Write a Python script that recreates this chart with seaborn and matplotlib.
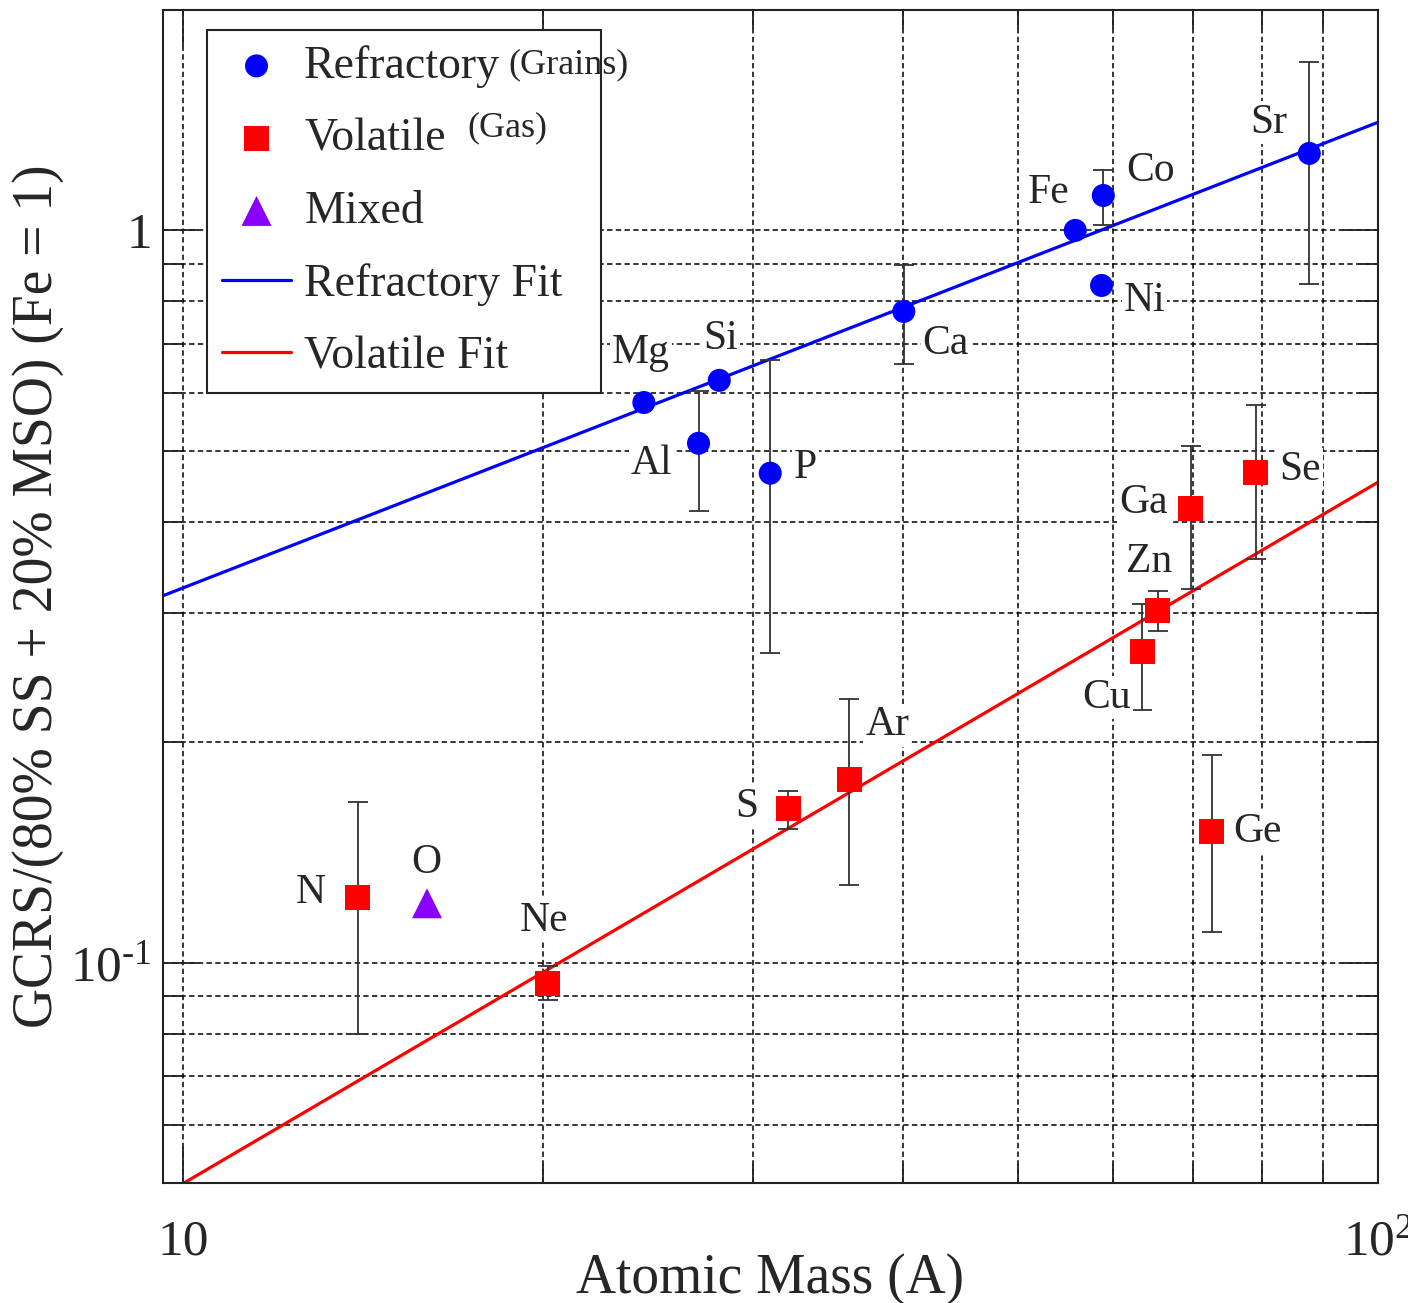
import numpy as np
import pandas as pd
import matplotlib
matplotlib.use('Agg')
import matplotlib.pyplot as plt
import seaborn as sns
from matplotlib.ticker import LogLocator, NullFormatter, FixedLocator, FixedFormatter

# ---------------- data ----------------
ref_elements = ['Mg', 'Al', 'Si', 'P', 'Ca', 'Fe', 'Ni', 'Co', 'Sr']
ref_mass = [24.3, 27.0, 28.1, 31.0, 40.1, 55.8, 58.7, 58.9, 87.6]
ref_ratio = [0.582, 0.512, 0.624, 0.466, 0.775, 1.0, 0.841, 1.116, 1.274]
ref_err_low = [np.nan, 0.414, np.nan, 0.265, 0.658, np.nan, np.nan, 1.016, 0.846]
ref_err_high = [np.nan, 0.604, np.nan, 0.665, 0.896, np.nan, np.nan, 1.21, 1.70]

vol_elements = ['N', 'Ne', 'S', 'Ar', 'Cu', 'Zn', 'Ga', 'Ge', 'Se']
vol_mass = [14.0, 20.2, 32.1, 36.1, 63.5, 65.4, 69.7, 72.6, 79.0]
vol_ratio = [0.1227, 0.0936, 0.1622, 0.178, 0.266, 0.303, 0.417, 0.151, 0.467]
vol_err_low = [0.0799, 0.0889, 0.152, 0.1275, 0.221, 0.284, 0.324, 0.110, 0.356]
vol_err_high = [0.1656, 0.099, 0.1718, 0.229, 0.309, 0.322, 0.508, 0.192, 0.577]

mix_elements = ['O']
mix_mass = [16.0]
mix_ratio = [0.1205]

fit_mass = [9.62, 100.0]
ref_fit = [0.317, 1.405]
vol_fit = [0.0481, 0.453]

x_ticks = [10, 100]
x_ticklabels = ['10', r'$\mathrm{10^{2}}$']
y_ticks = [0.1, 1]
y_ticklabels = [r'$\mathrm{10^{\text{-}1}}$', '1']

# label offsets (pixels) relative to points
label_offsets = {
    'Mg': (-3, 50), 'Al': (-47, -20), 'Si': (1, 42), 'P': (35, 5), 'Ca': (42, -32),
    'Fe': (-27, 38), 'Ni': (43, -15), 'Co': (47, 25), 'Sr': (-41, 31),
    'N': (-47, 5), 'Ne': (-4, 63), 'S': (-42, 2), 'Ar': (38, 54), 'Cu': (-36, -46),
    'Zn': (-9, 48), 'Ga': (-47, 6), 'Ge': (46, 0), 'Se': (44, 3), 'O': (-1, 41),
}

# ---------------- style ----------------
sns.set_theme(style='ticks')
plt.rcParams['font.family'] = ['Liberation Serif', 'DejaVu Serif']
plt.rcParams['mathtext.fontset'] = 'custom'
plt.rcParams['mathtext.rm'] = 'Liberation Serif'
plt.rcParams['mathtext.it'] = 'Liberation Serif:italic'
plt.rcParams['mathtext.bf'] = 'Liberation Serif:bold'

BLUE = '#0000ff'
RED = '#ff0000'
PURPLE = '#8a00ff'

fig = plt.figure(figsize=(14.08, 13.03), dpi=100)
ax = fig.add_axes([163 / 1408, 1 - 1183 / 1303, 1215 / 1408, 1173 / 1303])
ax.set_xscale('log')
ax.set_yscale('log')

df_ref = pd.DataFrame({'el': ref_elements, 'mass': ref_mass, 'ratio': ref_ratio,
                       'lo': ref_err_low, 'hi': ref_err_high})
df_vol = pd.DataFrame({'el': vol_elements, 'mass': vol_mass, 'ratio': vol_ratio,
                       'lo': vol_err_low, 'hi': vol_err_high})
df_mix = pd.DataFrame({'el': mix_elements, 'mass': mix_mass, 'ratio': mix_ratio})
df_fit = pd.DataFrame({'mass': fit_mass, 'ref': ref_fit, 'vol': vol_fit})

# error bars
for df in (df_ref, df_vol):
    d = df.dropna(subset=['lo', 'hi'])
    ax.errorbar(d['mass'], d['ratio'], yerr=[d['ratio'] - d['lo'], d['hi'] - d['ratio']],
                fmt='none', ecolor='#333333', elinewidth=1.3, capsize=7, capthick=1.3, zorder=3)

# fits
sns.lineplot(data=df_fit, x='mass', y='ref', color=BLUE, linewidth=2.3, ax=ax,
             label='Refractory Fit', zorder=2)
sns.lineplot(data=df_fit, x='mass', y='vol', color=RED, linewidth=2.3, ax=ax,
             label='Volatile Fit', zorder=2)

# points
sns.scatterplot(data=df_ref, x='mass', y='ratio', color=BLUE, marker='o', s=275,
                edgecolor='none', linewidth=0, ax=ax, label='Refractory', zorder=4)
sns.scatterplot(data=df_vol, x='mass', y='ratio', color=RED, marker='s', s=324,
                edgecolor='none', linewidth=0, ax=ax, label='Volatile', zorder=4)
sns.scatterplot(data=df_mix, x='mass', y='ratio', color=PURPLE, marker='^', s=466,
                edgecolor='none', linewidth=0, ax=ax, label='Mixed', zorder=4)

# labels
for df in (df_ref, df_vol, df_mix):
    for _, r in df.iterrows():
        dx, dy = label_offsets[r['el']]
        ax.annotate(r['el'], (r['mass'], r['ratio']), xytext=(dx, dy),
                    textcoords='offset pixels', ha='center', va='center',
                    fontsize=30, zorder=6,
                    bbox=dict(boxstyle='square,pad=0.05', fc='white', ec='none'))

ax.set_xlim(9.62, 100)
ax.set_ylim(0.05, 2.0)

# ticks
ax.xaxis.set_major_locator(FixedLocator(x_ticks))
ax.xaxis.set_major_formatter(FixedFormatter(x_ticklabels))
ax.yaxis.set_major_locator(FixedLocator(y_ticks))
ax.yaxis.set_major_formatter(FixedFormatter(y_ticklabels))
ax.xaxis.set_minor_locator(LogLocator(base=10, subs=np.arange(2, 10)))
ax.yaxis.set_minor_locator(LogLocator(base=10, subs=np.arange(2, 10)))
ax.xaxis.set_minor_formatter(NullFormatter())
ax.yaxis.set_minor_formatter(NullFormatter())
ax.tick_params(which='major', direction='in', length=26, width=1.3, top=True, right=True,
               labelsize=37, color='#222222')
ax.tick_params(axis='x', which='major', pad=26)
ax.tick_params(axis='y', which='major', pad=8)
ax.tick_params(which='minor', direction='in', length=13.5, width=1.3, top=True, right=True,
               color='#222222')

ax.grid(True, which='both', color='black', linestyle=(0, (3.5, 2.2)), linewidth=1.1, zorder=0)
ax.set_axisbelow(True)
for s in ax.spines.values():
    s.set_linewidth(1.5)
    s.set_color('#222222')

ax.set_xlabel('Atomic Mass (A)', fontsize=40)
ax.set_ylabel('GCRS/(80% SS + 20% MSO) (Fe = 1)', fontsize=40)
ax.xaxis.set_label_coords(0.5, (1183 - 1253) / 1173)
ax.yaxis.set_label_coords((64 - 163) / 1215, 0.5)

# legend
handles, labels = ax.get_legend_handles_labels()
order = ['Refractory', 'Volatile', 'Mixed', 'Refractory Fit', 'Volatile Fit']
hmap = dict(zip(labels, handles))
leg = ax.legend([hmap[k] for k in order], [k + '  ' if 'Fit' in k else k for k in order],
                loc='upper left', bbox_to_anchor=(44 / 1215, 1 - 20 / 1173),
                borderaxespad=0, fontsize=33, frameon=True, fancybox=False,
                edgecolor='#222222', framealpha=1, borderpad=0.33, labelspacing=0.655,
                handlelength=1.5, handletextpad=0.29)
leg.get_frame().set_linewidth(1.5)
leg.set_zorder(7)

ax.text((508 - 163) / 1215, (1183 - 65) / 1173, '(Grains)', transform=ax.transAxes,
        fontsize=26, va='center', ha='left', zorder=10)
ax.text((467 - 163) / 1215, (1183 - 128) / 1173, '(Gas)', transform=ax.transAxes,
        fontsize=26, va='center', ha='left', zorder=10)

fig.savefig('out.png', dpi=100)
